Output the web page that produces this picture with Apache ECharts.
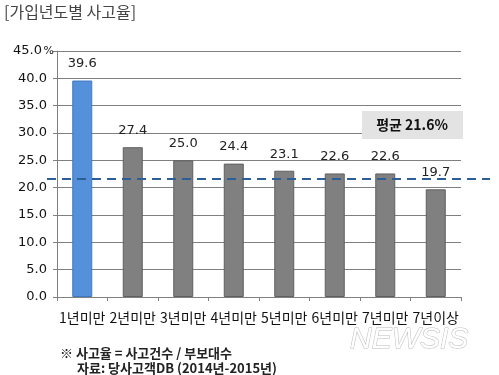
<!DOCTYPE html>
<html><head><meta charset="utf-8">
<script src="https://cdn.jsdelivr.net/npm/echarts@6/dist/echarts.min.js"></script>
<style>html,body{margin:0;padding:0;background:#fff}#c{width:499px;height:375px}</style>
</head><body><div id="c"></div>
<script>
var categories = ['1년미만','2년미만','3년미만','4년미만','5년미만','6년미만','7년미만','7년이상'];
var rates = [39.6, 27.4, 25.0, 24.4, 23.1, 22.6, 22.6, 19.7];
var averageRate = 21.6;
var yTicks = [0, 5, 10, 15, 20, 25, 30, 35, 40, 45];

var FONT = '"DejaVu Sans", "Noto Sans CJK KR", sans-serif';
var KFONT = '"Noto Sans CJK KR", "DejaVu Sans", sans-serif';
var chart = echarts.init(document.getElementById('c'));
chart.setOption({
  animation: false,
  backgroundColor: '#fff',
  textStyle: { fontFamily: FONT },
  grid: [
    { left: 57, right: 38, top: 51, bottom: 78 },
    { left: 47, right: 9, top: 51, bottom: 78 }
  ],
  xAxis: [
    { type: 'category', gridIndex: 0, data: categories,
      axisLine: { lineStyle: { color: '#808080', width: 1 } },
      axisTick: { show: true, length: 4, lineStyle: { color: '#808080' } },
      axisLabel: { color: '#111', fontSize: 14, fontFamily: KFONT, margin: 14, interval: 0 } },
    { type: 'value', gridIndex: 1, min: 0, max: 1, show: false }
  ],
  yAxis: [
    { type: 'value', gridIndex: 0, min: yTicks[0], max: yTicks[yTicks.length-1], interval: 5,
      axisLine: { show: true, lineStyle: { color: '#808080' } },
      axisTick: { show: true, length: 4, lineStyle: { color: '#808080' } },
      splitLine: { show: true, lineStyle: { color: '#7f7f7f', width: 1 } },
      axisLabel: { margin: 3, fontSize: 13, color: '#111',
        formatter: function (v) {
          return v === 45 ? '{v|' + v.toFixed(1) + '}{p|%}' : '{v|' + v.toFixed(1) + '}{s|}';
        },
        rich: { v: { fontSize: 13, color: '#111', fontFamily: FONT },
                p: { fontSize: 11, color: '#111', width: 12, align: 'right', fontFamily: FONT },
                s: { width: 7 } } } },
    { type: 'value', gridIndex: 1, min: 0, max: 45, show: false }
  ],
  series: [
    { type: 'bar', xAxisIndex: 0, yAxisIndex: 0, barWidth: 20,
      data: rates.map(function (v, i) {
        return { value: v, itemStyle: i === 0
          ? { color: '#5590DA', borderColor: '#3F78C2', borderWidth: 1 }
          : { color: '#808080', borderColor: '#5f5f5f', borderWidth: 1 } };
      }),
      label: { show: true, position: 'top', distance: 10, fontSize: 13, color: '#222',
        formatter: function (p) { return p.value.toFixed(1); } } },
    { type: 'line', xAxisIndex: 1, yAxisIndex: 1, symbol: 'none', z: 5,
      data: [[0, averageRate], [1, averageRate]],
      lineStyle: { color: '#2B5F95', width: 2, type: [9, 6] } }
  ],
  graphic: [
    { type: 'text', left: 4, top: 4,
      style: { text: '[가입년도별 사고율]', fontSize: 16, fill: '#444', fontFamily: KFONT } },
    { type: 'rect', shape: { x: 362, y: 111, width: 101, height: 28 },
      style: { fill: '#e3e3e3' }, z: 10 },
    { type: 'text', x: 412, y: 125, z: 11,
      style: { text: '평균 21.6%', fontSize: 14, fontWeight: 'bold', fill: '#111',
        fontFamily: KFONT, align: 'center', verticalAlign: 'middle' } },
    { type: 'text', x: 60, y: 353,
      style: { text: '※ 사고율 = 사고건수 / 부보대수', fontSize: 13, fontWeight: 'bold', fill: '#222',
        fontFamily: KFONT, verticalAlign: 'middle' } },
    { type: 'text', x: 77, y: 368,
      style: { text: '자료: 당사고객DB (2014년-2015년)', fontSize: 13, fontWeight: 'bold', fill: '#222',
        fontFamily: KFONT, verticalAlign: 'middle' } },
    { type: 'text', x: 350, y: 340,
      style: { text: 'NEWSIS', fontSize: 30, fontStyle: 'italic', fill: '#fff', stroke: '#bbb',
        lineWidth: 1, fontFamily: '"Liberation Sans", sans-serif', verticalAlign: 'middle' } }
  ]
});
</script></body></html>
